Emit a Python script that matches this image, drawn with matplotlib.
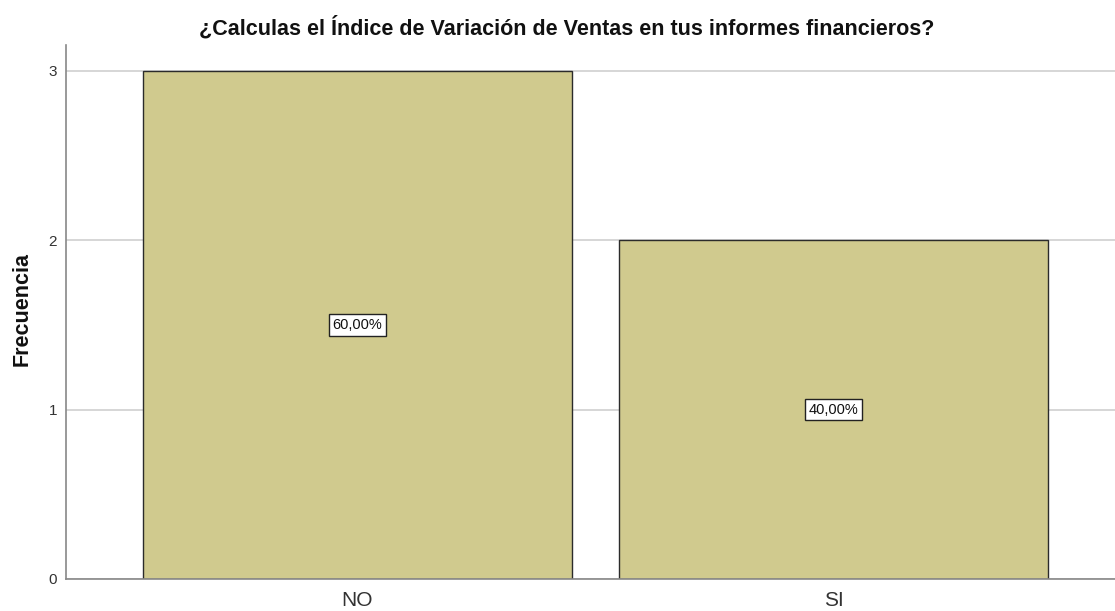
import matplotlib
matplotlib.use("Agg")
import matplotlib.pyplot as plt

categories = ["NO", "SI"]
counts = [3, 2]
pct_labels = ["60,00%", "40,00%"]
yticks = [0, 1, 2, 3]

plt.rcParams['font.family'] = ['Liberation Sans', 'DejaVu Sans']

fig = plt.figure(figsize=(11.15, 6.11), dpi=100)
ax = fig.add_axes([66/1115, 1-579/611, 1-66/1115, (579-45)/611])

x = list(range(len(categories)))
ax.set_axisbelow(True)
ax.yaxis.grid(True, color="#d0d0d0", linewidth=1.2)
bars = ax.bar(x, counts, width=0.9, color="#D0CA8E", edgecolor="#2b2b2b", linewidth=1.0, zorder=2)
for xi, c, lab in zip(x, counts, pct_labels):
    ax.text(xi, c/2, lab, ha="center", va="center", fontsize=10.5, zorder=3, color="#111111",
            bbox=dict(boxstyle="square,pad=0.25", fc="white", ec="#222222", lw=1.0))

ax.set_xlim(-0.611, 1.59)
ax.set_ylim(0, 3.153)
ax.set_xticks(x)
ax.set_xticklabels(categories, fontsize=15, color="#333333")
ax.set_yticks(yticks)
ax.set_yticklabels([str(t) for t in yticks], fontsize=11, color="#333333")
ax.tick_params(axis="y", length=0, pad=6.5)
ax.tick_params(axis="x", length=0, pad=9)
for s in ["top", "right"]:
    ax.spines[s].set_visible(False)
ax.spines["left"].set_color("#888888")
ax.spines["bottom"].set_color("#888888")
ax.spines["left"].set_linewidth(1.2)
ax.spines["bottom"].set_linewidth(1.2)
fig.text(22/1115, 1-309/611, "Frecuencia", rotation=90, ha="center", va="center",
         fontsize=15.5, fontweight="bold", color="#111111")
fig.text(567/1115, 1-28/611, "¿Calculas el Índice de Variación de Ventas en tus informes financieros?",
         ha="center", va="center", fontsize=15.5, fontweight="bold", color="#111111")

fig.savefig("out.png", dpi=100)
